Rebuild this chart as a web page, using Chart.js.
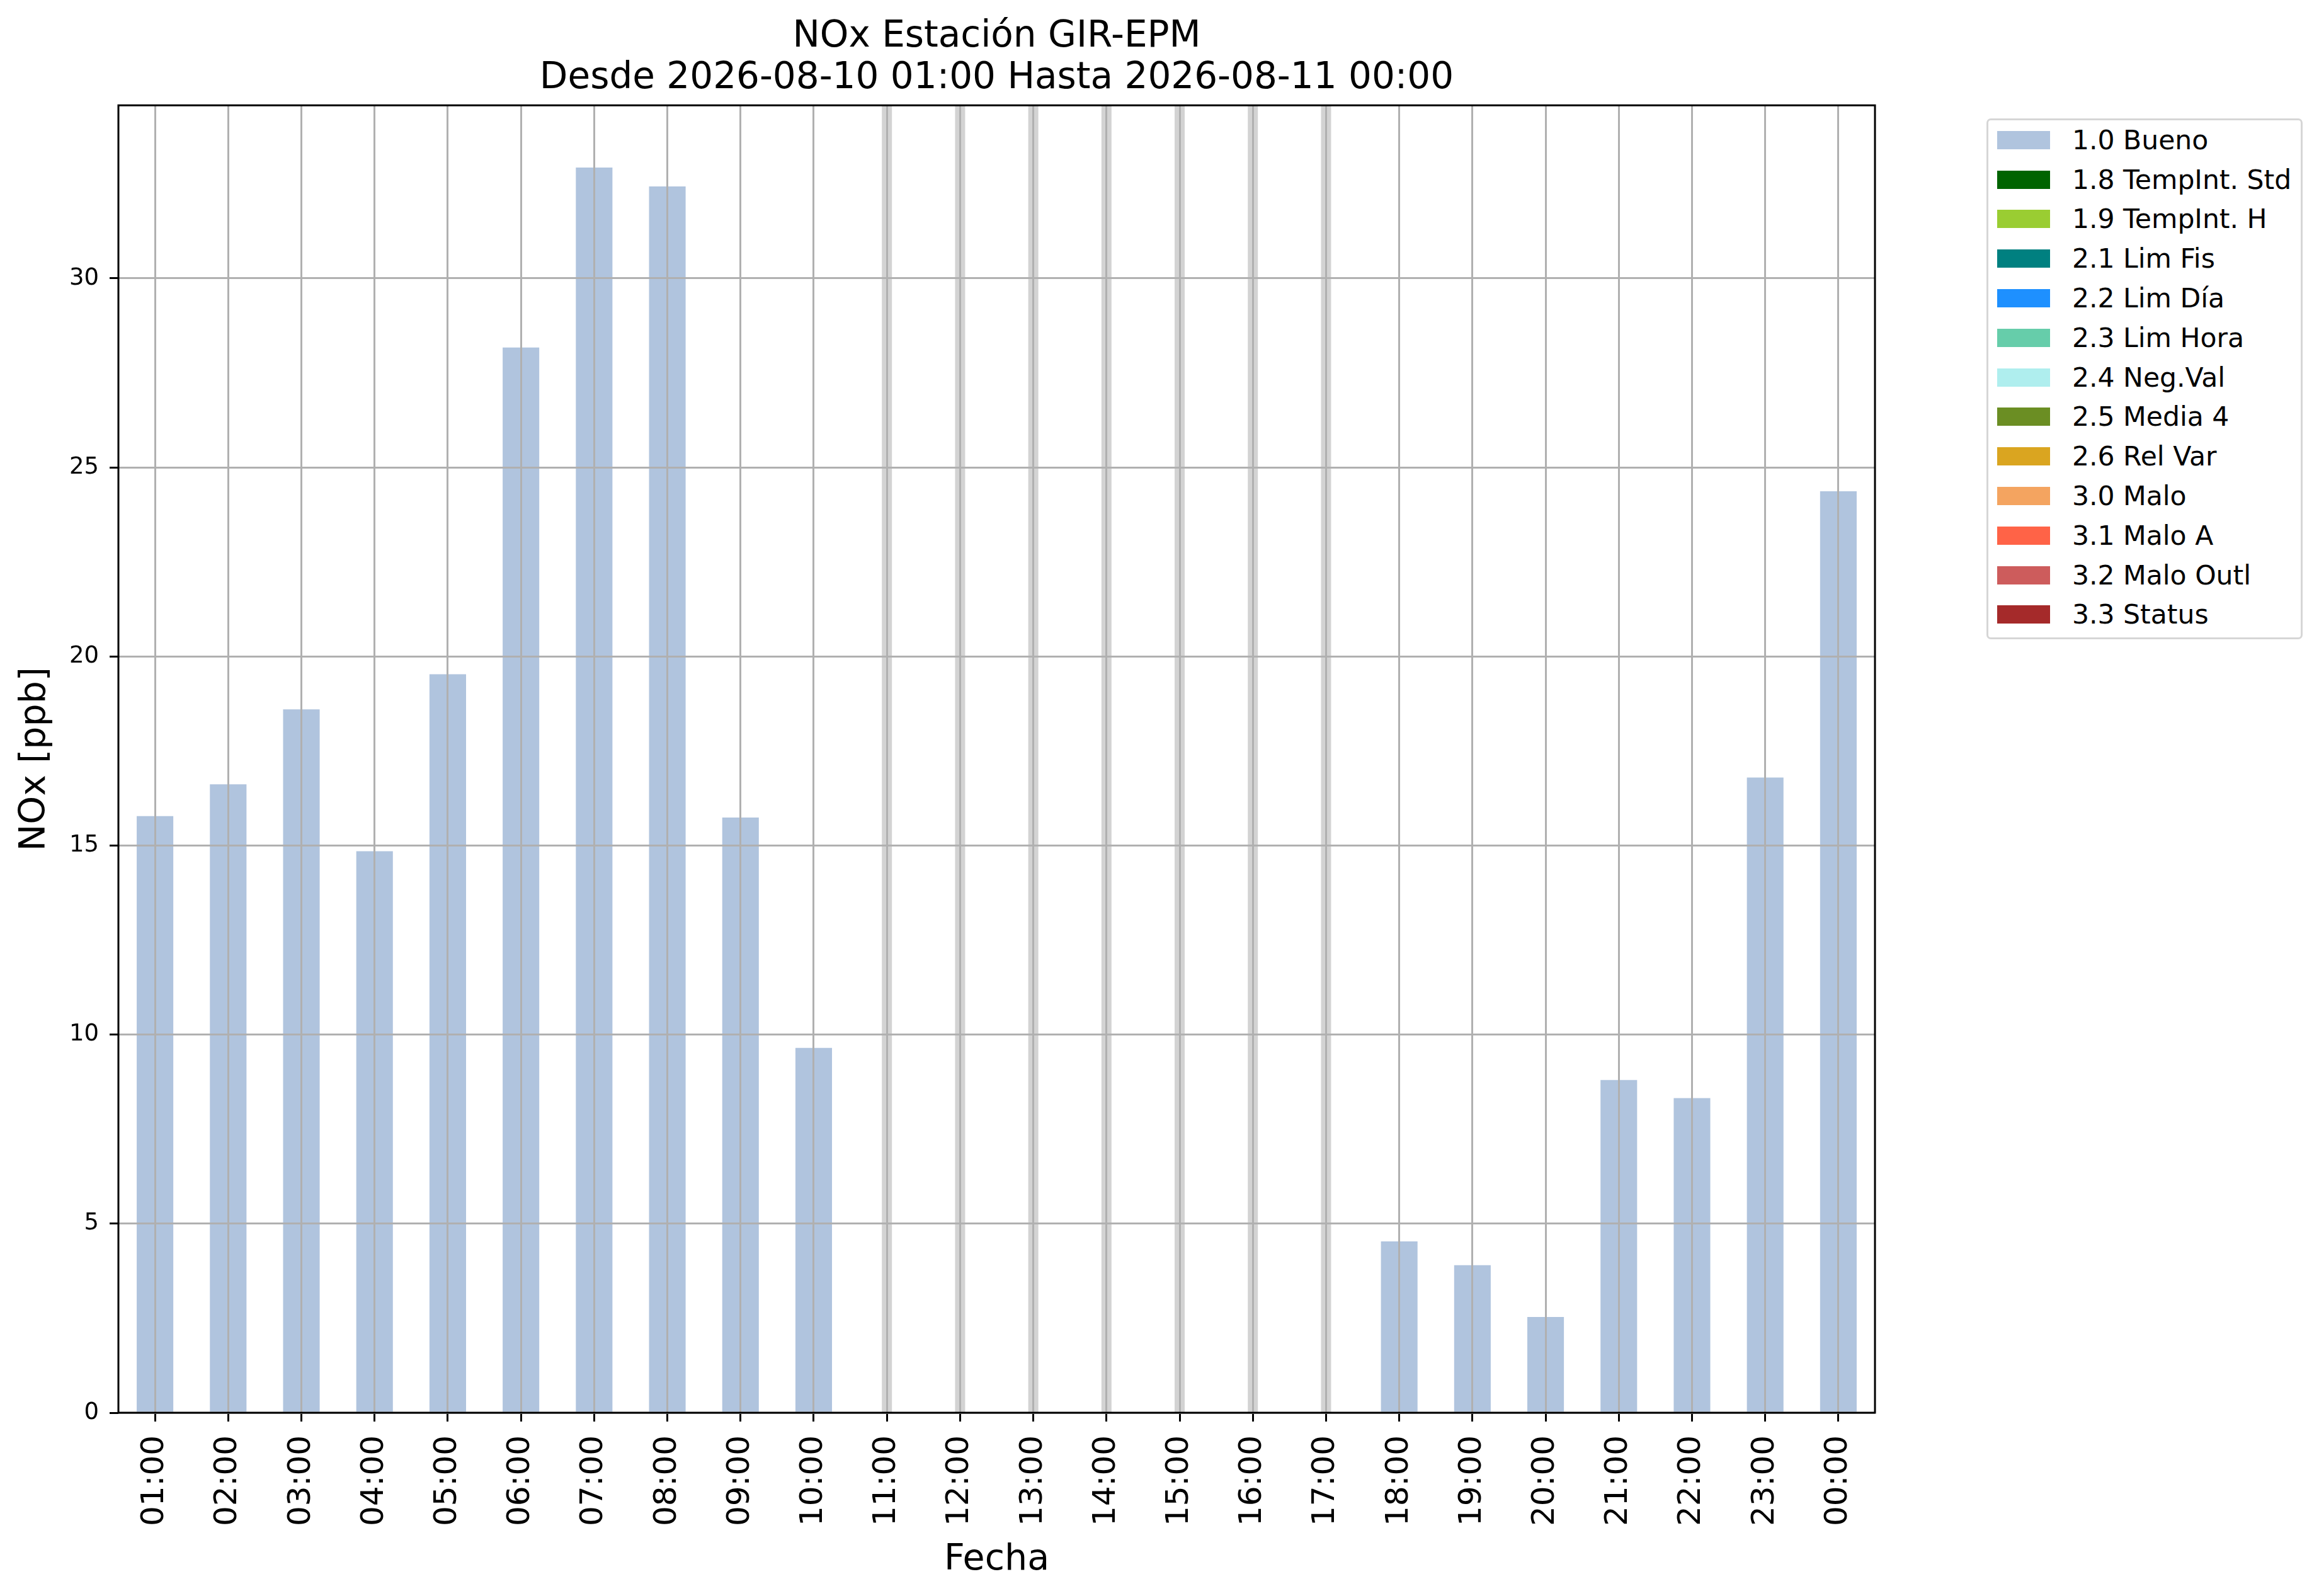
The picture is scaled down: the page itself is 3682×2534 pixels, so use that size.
<!DOCTYPE html>
<html>
<head>
<meta charset="utf-8">
<title>NOx Estación GIR-EPM</title>
<script src="https://cdn.jsdelivr.net/npm/chart.js@4.4.1/dist/chart.umd.min.js"></script>
<style>
    html, body { margin: 0; padding: 0; background: #fff; }
    #wrap { position: relative; width: 3682px; height: 2534px; }
    #chart { position: absolute; left: 0; top: 0; }
    #legend {
        position: absolute; left: 3154px; top: 188px; width: 496px;
        border: 3px solid #d6d6d6; border-radius: 7px; background: #fff;
        font-family: "DejaVu Sans", sans-serif; font-size: 42.5px; color: #000;
        padding: 0 0 5px 0;
    }
    #legend .row { display: flex; align-items: center; height: 62.8px; white-space: nowrap; }
    #legend .sw { width: 84px; height: 29px; margin-left: 14px; margin-right: 35px; }
</style>
</head>
<body>
<div id="wrap">
    <canvas id="chart" width="3682" height="2534"></canvas>
    <div id="legend"></div>
</div>
<script>
(function(window, document){
    'use strict';

    // horas del día (eje x)
    const hours = ['01:00','02:00','03:00','04:00','05:00','06:00','07:00','08:00','09:00','10:00',
                   '11:00','12:00','13:00','14:00','15:00','16:00','17:00','18:00','19:00','20:00',
                   '21:00','22:00','23:00','00:00'];

    // NOx [ppb] con bandera 1.0 (null = sin dato)
    const noxBueno = [15.78, 16.62, 18.6, 14.85, 19.53, 28.17, 32.93, 32.43, 15.74, 9.65,
                      null, null, null, null, null, null, null,
                      4.53, 3.9, 2.53, 8.8, 8.32, 16.8, 24.37];

    // banderas de calidad y sus colores
    const flagLabels = ['1.0 Bueno','1.8 TempInt. Std','1.9 TempInt. H','2.1 Lim Fis','2.2 Lim Día',
                        '2.3 Lim Hora','2.4 Neg.Val','2.5 Media 4','2.6 Rel Var','3.0 Malo',
                        '3.1 Malo A','3.2 Malo Outl','3.3 Status'];
    const flagColors = ['#b0c4de','#006400','#9acd32','#008080','#1e90ff',
                        '#66cdaa','#afeeee','#6b8e23','#daa520','#f4a460',
                        '#ff6347','#cd5c5c','#a52a2a'];

    const yTicks = [0, 5, 10, 15, 20, 25, 30];

    const FONT = '"DejaVu Sans", sans-serif';
    Chart.defaults.color = '#000';
    Chart.defaults.font.family = FONT;

    // una serie por bandera; solo "Bueno" tiene datos en este periodo
    const datasets = flagLabels.map((lbl, i) => ({
        label: lbl,
        data: i === 0 ? noxBueno : hours.map(() => null),
        backgroundColor: flagColors[i],
        borderWidth: 0,
        barPercentage: 0.5,
        categoryPercentage: 1.0
    }));

    const dataMax = Math.max(...noxBueno.filter(v => v !== null));

    // franja gris en las horas sin dato
    const missingBands = {
        id: 'missingBands',
        beforeDatasetsDraw(chart) {
            const {ctx, chartArea, scales} = chart;
            ctx.save();
            ctx.fillStyle = '#d3d3d3';
            noxBueno.forEach((v, i) => {
                if (v !== null) return;
                const x = scales.x.getPixelForValue(i);
                ctx.fillRect(x - 8, chartArea.top, 16, chartArea.bottom - chartArea.top);
            });
            ctx.restore();
        }
    };

    // marco negro de los ejes
    const axesFrame = {
        id: 'axesFrame',
        afterDraw(chart) {
            const {ctx, chartArea} = chart;
            ctx.save();
            ctx.strokeStyle = '#000';
            ctx.lineWidth = 3;
            ctx.strokeRect(chartArea.left, chartArea.top,
                           chartArea.right - chartArea.left, chartArea.bottom - chartArea.top);
            ctx.restore();
        }
    };

    const chart = new Chart(document.getElementById('chart'), {
        type: 'bar',
        data: { labels: hours, datasets: datasets },
        options: {
            responsive: false,
            animation: false,
            devicePixelRatio: 1,
            layout: { padding: { left: 0, top: 0, right: 705, bottom: 0 } },
            plugins: {
                legend: { display: false },
                tooltip: { enabled: false },
                title: {
                    display: true,
                    fullSize: false,
                    text: ['NOx Estación GIR-EPM', 'Desde 2026-08-10 01:00 Hasta 2026-08-11 00:00'],
                    font: { family: FONT, size: 58, weight: 'normal', lineHeight: 1.14 },
                    color: '#000',
                    padding: { top: 26, bottom: 9 }
                }
            },
            scales: {
                x: {
                    stacked: true,
                    offset: true,
                    border: { display: false },
                    grid: { z: 1, offset: false, color: '#b0b0b0', lineWidth: 3,
                            drawTicks: true, tickLength: 14, tickColor: '#000', tickWidth: 3 },
                    ticks: { autoSkip: false, minRotation: 90, maxRotation: 90, padding: 22,
                             font: { family: FONT, size: 50 }, color: '#000' },
                    title: { display: true, text: 'Fecha', color: '#000',
                             font: { family: FONT, size: 57 }, padding: { top: 0, bottom: 23 } },
                    afterFit(s) { s.height = 291; }
                },
                y: {
                    stacked: true,
                    min: 0,
                    max: dataMax * 1.05,
                    border: { display: false },
                    grid: { z: 1, color: '#b0b0b0', lineWidth: 3,
                            drawTicks: true, tickLength: 14, tickColor: '#000', tickWidth: 3 },
                    ticks: { stepSize: 5, padding: 17, font: { family: FONT, size: 37 }, color: '#000' },
                    afterBuildTicks(s) { s.ticks = yTicks.map(v => ({ value: v })); },
                    title: { display: true, text: 'NOx [ppb]', color: '#000',
                             font: { family: FONT, size: 57 }, padding: { top: 22, bottom: 0 } },
                    afterFit(s) { s.width = 188; }
                }
            }
        },
        plugins: [missingBands, axesFrame]
    });

    // leyenda HTML a partir de las series del gráfico
    function buildLegend(ch) {
        const box = document.getElementById('legend');
        ch.data.datasets.forEach(ds => {
            const row = document.createElement('div');
            row.className = 'row';
            const sw = document.createElement('span');
            sw.className = 'sw';
            sw.style.background = ds.backgroundColor;
            const txt = document.createElement('span');
            txt.textContent = ds.label;
            row.appendChild(sw);
            row.appendChild(txt);
            box.appendChild(row);
        });
    }
    buildLegend(chart);

})(window, document);
</script>
</body>
</html>
